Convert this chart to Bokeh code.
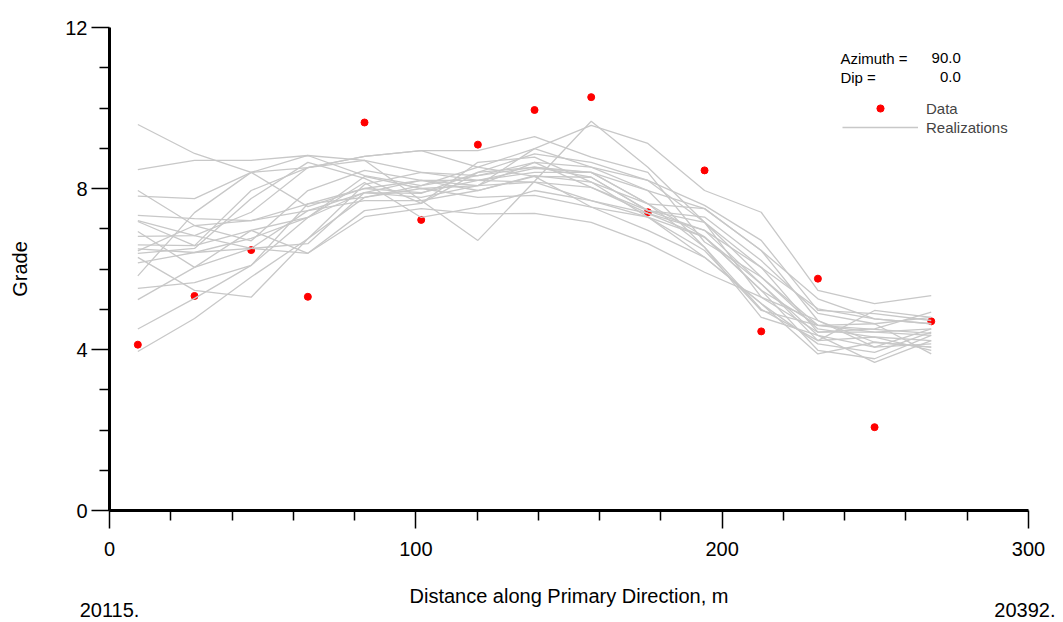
from bokeh.plotting import figure
from bokeh.models import FixedTicker, Legend, LegendItem, Label, Range1d, ColumnDataSource, LinearAxis
from bokeh.embed import file_html
from bokeh.resources import INLINE

# ---- data ----
x_pos = [9.25, 27.75, 46.25, 64.75, 83.25, 101.75, 120.25, 138.75,
         157.25, 175.75, 194.25, 212.75, 231.25, 249.75, 268.25]
data_grade = [4.12, 5.33, 6.47, 5.31, 9.64, 7.22, 9.09, 9.95,
              10.27, 7.41, 8.45, 4.45, 5.76, 2.07, 4.70]

real_01 = [9.59, 8.87, 8.40, 7.55, 8.00, 7.90, 8.20, 8.50, 8.40, 7.62, 6.80, 5.47, 4.60, 4.50, 4.40]
real_02 = [8.47, 8.70, 8.70, 8.82, 8.70, 7.70, 7.95, 8.30, 8.28, 7.45, 7.29, 6.21, 4.90, 4.64, 4.80]
real_03 = [3.95, 4.77, 5.80, 6.75, 8.10, 8.40, 8.32, 8.65, 8.53, 7.95, 6.54, 5.00, 4.22, 4.31, 4.22]
real_04 = [4.51, 5.27, 6.09, 7.28, 8.30, 8.00, 8.07, 8.16, 8.03, 7.38, 6.96, 5.63, 4.35, 4.06, 4.14]
real_05 = [6.50, 6.41, 6.51, 7.45, 7.70, 7.70, 6.71, 8.18, 9.67, 8.53, 7.16, 6.04, 4.43, 4.43, 4.51]
real_06 = [7.33, 7.25, 7.20, 7.62, 7.78, 8.07, 8.53, 8.99, 9.57, 9.12, 7.95, 7.41, 5.47, 5.14, 5.34]
real_07 = [7.18, 6.58, 6.96, 6.39, 7.30, 7.50, 7.37, 7.38, 7.16, 6.63, 5.92, 5.30, 4.72, 4.18, 4.06]
real_08 = [7.95, 7.08, 6.70, 7.95, 8.45, 8.20, 8.20, 8.40, 8.40, 7.62, 7.50, 6.46, 5.26, 4.76, 4.64]
real_09 = [6.93, 6.04, 6.51, 6.63, 7.90, 7.88, 8.40, 8.86, 8.65, 8.20, 7.58, 6.71, 4.97, 4.89, 4.72]
real_10 = [6.81, 6.83, 7.41, 8.52, 8.80, 8.94, 8.94, 9.29, 8.78, 8.40, 6.67, 5.80, 4.51, 4.31, 3.98]
real_11 = [6.39, 6.51, 7.75, 8.65, 8.25, 7.63, 8.65, 8.78, 8.16, 7.29, 6.79, 5.47, 3.98, 3.77, 4.35]
real_12 = [6.29, 5.47, 5.30, 6.75, 7.78, 8.00, 7.78, 7.83, 7.54, 6.96, 6.29, 5.14, 4.14, 3.93, 4.43]
real_13 = [6.15, 6.41, 6.76, 7.28, 8.15, 7.28, 7.54, 7.95, 7.70, 7.29, 6.46, 4.97, 4.60, 4.64, 3.89]
real_14 = [5.83, 7.40, 8.40, 8.82, 8.32, 8.07, 8.32, 8.53, 8.28, 7.45, 7.16, 5.30, 4.43, 4.51, 4.93]
real_15 = [5.52, 5.66, 6.09, 7.62, 8.00, 8.20, 7.95, 8.32, 8.16, 7.62, 6.54, 4.80, 4.35, 3.68, 4.22]
real_16 = [5.24, 6.04, 6.96, 7.28, 7.90, 7.78, 8.07, 8.65, 8.03, 7.45, 6.96, 6.04, 5.01, 4.76, 4.64]
real_17 = [7.81, 7.75, 8.40, 8.52, 8.70, 8.40, 8.20, 8.16, 7.70, 7.38, 6.79, 5.63, 4.22, 4.97, 4.80]
real_18 = [7.20, 6.83, 6.51, 6.39, 7.45, 7.63, 8.40, 8.53, 8.40, 7.95, 7.50, 6.46, 4.72, 4.06, 4.51]
real_19 = [6.60, 6.58, 7.95, 8.52, 8.80, 8.94, 8.53, 8.30, 7.54, 7.29, 6.29, 5.14, 3.89, 4.18, 4.06]
real_20 = [6.45, 7.08, 7.20, 7.45, 7.90, 8.20, 8.07, 8.99, 8.53, 8.20, 7.16, 5.80, 4.60, 4.43, 4.35]
realizations = [real_01, real_02, real_03, real_04, real_05, real_06, real_07, real_08, real_09, real_10,
                real_11, real_12, real_13, real_14, real_15, real_16, real_17, real_18, real_19, real_20]

x_major = [0, 100, 200, 300]
x_minor = [20, 40, 60, 80, 120, 140, 160, 180, 220, 240, 260, 280]
y_major = [0, 4, 8, 12]
y_minor = [1, 2, 3, 5, 6, 7, 9, 10, 11]
end_ticks = [0, 300]
end_labels = ["20115.", "20392."]

FONT = "Liberation Sans"

p = figure(width=1055, height=622, output_backend="svg", toolbar_location=None,
           x_range=Range1d(0, 300), y_range=Range1d(0, 12),
           min_border_left=109, min_border_right=27, min_border_top=27, min_border_bottom=112)
p.outline_line_color = None
p.xgrid.visible = False
p.ygrid.visible = False
p.background_fill_color = "white"

for ax in (p.xaxis[0], p.yaxis[0]):
    ax.axis_line_width = 3
    ax.axis_line_color = "black"
    ax.major_tick_line_width = 1.5
    ax.minor_tick_line_width = 1.5
    ax.major_tick_line_color = "black"
    ax.minor_tick_line_color = "black"
    ax.major_tick_in = 0
    ax.minor_tick_in = 0
    ax.major_tick_out = 18
    ax.minor_tick_out = 10
    ax.major_label_text_font = FONT
    ax.major_label_text_font_size = "20px"
    ax.major_label_text_color = "black"
    ax.axis_label_text_font = FONT
    ax.axis_label_text_font_size = "20px"
    ax.axis_label_text_font_style = "normal"
    ax.axis_label_text_color = "black"

p.xaxis[0].ticker = FixedTicker(ticks=x_major, minor_ticks=x_minor)
p.yaxis[0].ticker = FixedTicker(ticks=y_major, minor_ticks=y_minor)
p.xaxis[0].axis_label = "Distance along Primary Direction, m"
p.yaxis[0].axis_label = "Grade"
p.xaxis[0].major_label_standoff = 13
p.xaxis[0].axis_label_standoff = 26
p.yaxis[0].major_label_standoff = 4
p.yaxis[0].axis_label_standoff = 31

ax2 = LinearAxis(ticker=FixedTicker(ticks=end_ticks),
                 major_label_overrides={t: s for t, s in zip(end_ticks, end_labels)},
                 axis_line_color=None, major_tick_line_color=None, minor_tick_line_color=None,
                 major_tick_out=0, major_tick_in=0, minor_tick_out=0, minor_tick_in=0,
                 major_label_standoff=-7, major_label_text_font=FONT,
                 major_label_text_font_size="20px", major_label_text_color="black")
p.add_layout(ax2, "below")

pts = p.scatter(x_pos, data_grade, size=7, color="#ff0000", line_color="#ff0000")
src = ColumnDataSource(dict(xs=[x_pos] * len(realizations), ys=realizations))
lines = p.multi_line("xs", "ys", source=src, line_color="#c8c8c8", line_width=1.3)

legend = Legend(items=[LegendItem(label="Data", renderers=[pts]),
                       LegendItem(label="Realizations", renderers=[lines])],
                location=(733, 374), glyph_width=76, glyph_height=18, spacing=1,
                padding=0, margin=0, border_line_color=None, background_fill_alpha=0,
                label_standoff=8, label_text_font=FONT, label_text_font_size="15px",
                label_height=18)
p.add_layout(legend)

for txt, xx, yy, al in [("Azimuth =", 238.6, 11.23, "left"), ("90.0", 277.9, 11.23, "right"),
                        ("Dip =", 238.6, 10.76, "left"), ("0.0", 277.9, 10.76, "right")]:
    p.add_layout(Label(x=xx, y=yy, text=txt, text_align=al, text_baseline="middle",
                       text_font=FONT, text_font_size="15px", text_color="black"))

open("out.html", "w").write(file_html(p, INLINE))
